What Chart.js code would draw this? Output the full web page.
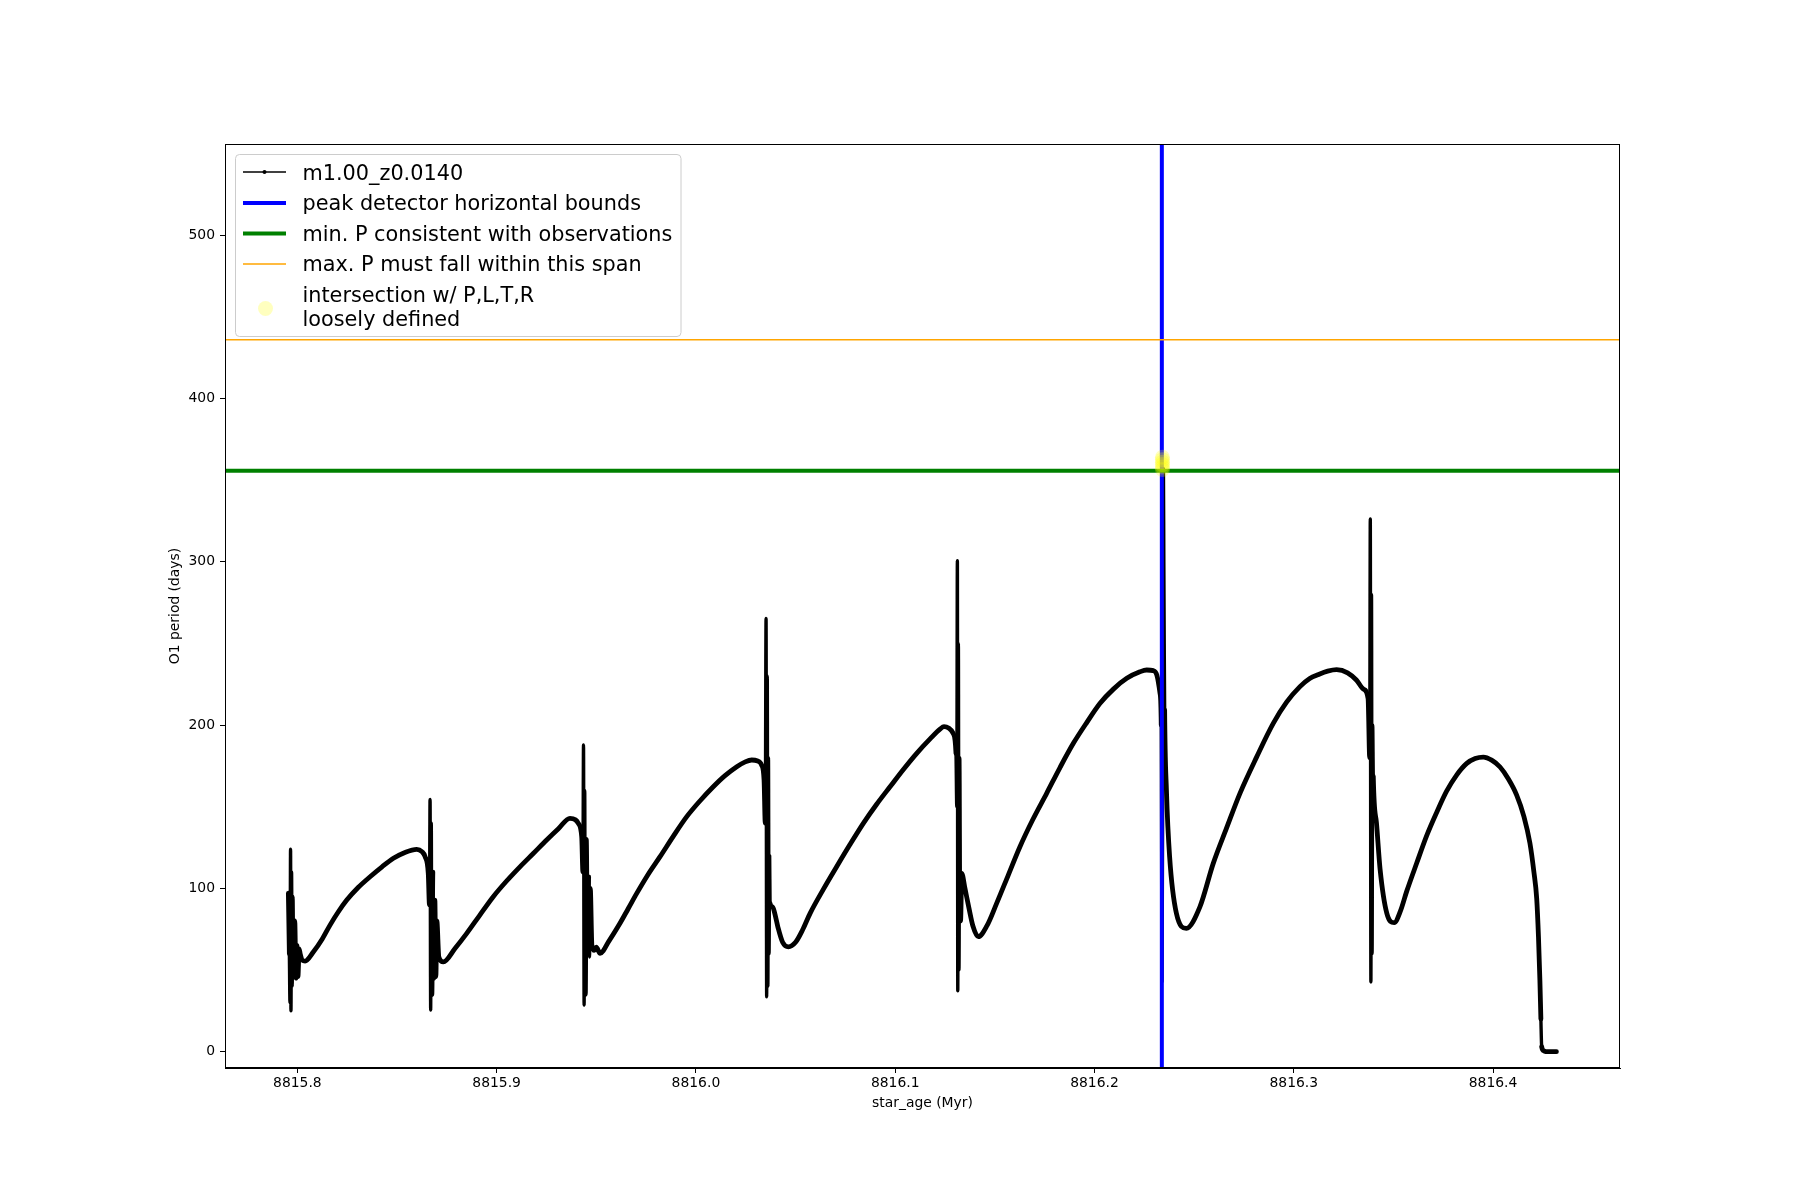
<!DOCTYPE html>
<html>
<head>
<meta charset="utf-8">
<script src="https://cdn.jsdelivr.net/npm/chart.js@4.4.1/dist/chart.umd.min.js"></script>
<style>
  html, body { margin: 0; padding: 0; background: #ffffff; }
  #wrap { width: 1800px; height: 1200px; }
</style>
</head>
<body>
<div id="wrap"><canvas id="c" width="1800" height="1200"></canvas></div>
<script>
// ---------------- data ----------------
const seriesLabel = 'm1.00_z0.0140';
const ageMyr = [
  8815.7955, 8815.7960, 8815.7963, 8815.7966, 8815.7968, 8815.7971, 8815.7974, 8815.7978, 8815.7982, 8815.7987,
  8815.7993, 8815.7998, 8815.8003, 8815.8009, 8815.8014, 8815.8025, 8815.8039, 8815.8080, 8815.8125, 8815.8164,
  8815.8205, 8815.8248, 8815.8305, 8815.8365, 8815.8425, 8815.8482, 8815.8540, 8815.8599, 8815.8625, 8815.8641,
  8815.8657, 8815.8663, 8815.8666, 8815.8669, 8815.8672, 8815.8675, 8815.8680, 8815.8684, 8815.8690, 8815.8695,
  8815.8700, 8815.8710, 8815.8733, 8815.8790, 8815.8850, 8815.8915, 8815.8983, 8815.9050, 8815.9117, 8815.9185,
  8815.9251, 8815.9310, 8815.9368, 8815.9395, 8815.9410, 8815.9427, 8815.9433, 8815.9436, 8815.9439, 8815.9442,
  8815.9445, 8815.9450, 8815.9456, 8815.9462, 8815.9466, 8815.9470, 8815.9478, 8815.9490, 8815.9500, 8815.9519,
  8815.9565, 8815.9619, 8815.9660, 8815.9703, 8815.9760, 8815.9820, 8815.9887, 8815.9954, 8816.0020, 8816.0087,
  8816.0146, 8816.0205, 8816.0245, 8816.0280, 8816.0310, 8816.0330, 8816.0342, 8816.0348, 8816.0352, 8816.0355,
  8816.0358, 8816.0361, 8816.0364, 8816.0367, 8816.0370, 8816.0372, 8816.0385, 8816.0395, 8816.0412, 8816.0435,
  8816.0464, 8816.0500, 8816.0535, 8816.0573, 8816.0640, 8816.0706, 8816.0773, 8816.0840, 8816.0907, 8816.0974,
  8816.1041, 8816.1108, 8816.1175, 8816.1225, 8816.1245, 8816.1270, 8816.1291, 8816.1305, 8816.1309, 8816.1312,
  8816.1314, 8816.1317, 8816.1320, 8816.1324, 8816.1328, 8816.1334, 8816.1350, 8816.1370, 8816.1390, 8816.1417,
  8816.1460, 8816.1509, 8816.1567, 8816.1626, 8816.1690, 8816.1760, 8816.1827, 8816.1894, 8816.1961, 8816.2028,
  8816.2095, 8816.2162, 8816.2228, 8816.2262, 8816.2295, 8816.2313, 8816.2329, 8816.2335, 8816.2339, 8816.2342,
  8816.2344, 8816.2346, 8816.2348, 8816.2350, 8816.2352, 8816.2361, 8816.2377, 8816.2411, 8816.2461, 8816.2529,
  8816.2596, 8816.2663, 8816.2730, 8816.2814, 8816.2897, 8816.2964, 8816.3031, 8816.3080, 8816.3125, 8816.3170,
  8816.3215, 8816.3270, 8816.3314, 8816.3350, 8816.3373, 8816.3381, 8816.3384, 8816.3387, 8816.3390, 8816.3393,
  8816.3396, 8816.3399, 8816.3415, 8816.3433, 8816.3467, 8816.3504, 8816.3535, 8816.3567, 8816.3617, 8816.3667,
  8816.3717, 8816.3767, 8816.3818, 8816.3868, 8816.3910, 8816.3951, 8816.3993, 8816.4035, 8816.4077, 8816.4118,
  8816.4155, 8816.4185, 8816.4205, 8816.4219, 8816.4228, 8816.4235, 8816.4240, 8816.4244, 8816.4255, 8816.4269,
  8816.4300, 8816.4318
];
const periodDays = [
  97, 60, 30, 124, 25, 110, 40, 95, 50, 80,
  45, 65, 46, 63, 60, 56, 55.5, 61, 69, 77.5,
  85.5, 92.8, 100.5, 107.1, 113.2, 118.4, 122, 123.9, 122.5, 119.4,
  109.2, 90, 154.5, 25.5, 140, 35, 110, 45, 92.8, 46,
  80, 58, 55, 63, 72.4, 83.5, 94.9, 104.5, 113.2, 121.5,
  129.6, 136.5, 142.9, 142, 139.8, 131.6, 110, 187.8, 28.5, 160,
  35, 130, 60, 107, 58, 100, 65, 62, 64, 60.2,
  68, 78.6, 87.5, 96.9, 108.5, 119.4, 132, 143.9, 153.5, 162.2,
  169, 174.5, 177.3, 178.6, 178, 175.5, 166.3, 140, 265.3, 33.6,
  230, 40, 180, 60, 120, 90.8, 88.7, 85, 76, 67,
  64.2, 67, 74.5, 84.7, 99.5, 113.2, 126.8, 139.8, 151.5, 162.2,
  172.8, 182.7, 191.5, 197.5, 199, 198, 194.9, 182.7, 150, 300.6,
  37.3, 250, 50, 180, 80, 109.2, 100, 88, 77, 70.4,
  77, 90.8, 108, 125.5, 142, 158.2, 174, 188.8, 201.5, 213.3,
  222, 228.6, 232.6, 233.7, 233.3, 230.6, 219.4, 200, 43, 150,
  300, 357, 300, 250, 209.2, 160.2, 119.4, 84.7, 75.5, 88.7,
  115.3, 137, 158.2, 180.5, 201, 214, 223.5, 228.5, 231, 233,
  233.9, 232, 227.6, 222, 216.2, 180, 326.2, 42.7, 280, 60,
  200, 168.6, 140, 111.9, 84.7, 79, 86, 98.3, 115.5, 132.3,
  146.5, 159.5, 169.5, 176.5, 179.5, 180.4, 178.5, 174.3, 167, 157.3,
  144, 127.7, 110, 93.8, 70, 43.8, 20, 3, 0.5, 0,
  0, 0
];

const peakBoundAge = 8816.2338;          // blue vertical line
const minPeriodObs = 355.7;              // green horizontal line
const maxPeriodSpan = 435.9;             // orange horizontal line
const intersectAge = [8816.2341, 8816.2341, 8816.2341, 8816.2341, 8816.2341, 8816.2341];
const intersectPeriod = [356.5, 358, 359.5, 361, 362.5, 364];

const xTickValues = [8815.8, 8815.9, 8816.0, 8816.1, 8816.2, 8816.3, 8816.4];
const yTickValues = [0, 100, 200, 300, 400, 500];
const xLimits = [8815.7637, 8816.4637];
const yLimits = [-10.0, 555.8];

const legendLabels = [
  'm1.00_z0.0140',
  'peak detector horizontal bounds',
  'min. P consistent with observations',
  'max. P must fall within this span',
  ['intersection w/ P,L,T,R', 'loosely defined']
];
const xTitle = 'star_age (Myr)';
const yTitle = 'O1 period (days)';

// ---------------- build datasets ----------------
const curve = ageMyr.map((x, i) => ({ x: x, y: periodDays[i] }));
const vLine = [{ x: peakBoundAge, y: yLimits[0] }, { x: peakBoundAge, y: yLimits[1] }];
const gLine = [{ x: xLimits[0], y: minPeriodObs }, { x: xLimits[1], y: minPeriodObs }];
const oLine = [{ x: xLimits[0], y: maxPeriodSpan }, { x: xLimits[1], y: maxPeriodSpan }];
const yellowPts = intersectAge.map((x, i) => ({ x: x, y: intersectPeriod[i] }));

const FONT = "'DejaVu Sans', 'Liberation Sans', sans-serif";

const framePlugin = {
  id: 'frame',
  afterDatasetsDraw(chart) {
    const { ctx, chartArea: a } = chart;
    ctx.save();
    ctx.strokeStyle = '#000';
    ctx.lineWidth = 1;
    ctx.strokeRect(Math.round(a.left) + 0.5, Math.round(a.top) + 0.5,
                   Math.round(a.right - a.left) - 1, Math.round(a.bottom - a.top) - 1);
    ctx.restore();
  },
  afterDraw(chart) {
    const ctx = chart.ctx;
    ctx.save();
    // legend frame
    const bx = 235.5, by = 154.5, bw = 445.5, bh = 182, r = 4;
    ctx.beginPath();
    ctx.moveTo(bx + r, by);
    ctx.lineTo(bx + bw - r, by);
    ctx.arcTo(bx + bw, by, bx + bw, by + r, r);
    ctx.lineTo(bx + bw, by + bh - r);
    ctx.arcTo(bx + bw, by + bh, bx + bw - r, by + bh, r);
    ctx.lineTo(bx + r, by + bh);
    ctx.arcTo(bx, by + bh, bx, by + bh - r, r);
    ctx.lineTo(bx, by + r);
    ctx.arcTo(bx, by, bx + r, by, r);
    ctx.closePath();
    ctx.fillStyle = 'rgba(255,255,255,0.8)';
    ctx.fill();
    ctx.strokeStyle = '#cccccc';
    ctx.lineWidth = 1;
    ctx.stroke();

    const hx0 = 243, hx1 = 286;
    const handleY = [172, 203, 233.5, 264];
    ctx.lineCap = 'butt';
    ctx.strokeStyle = '#000'; ctx.lineWidth = 1.5;
    ctx.beginPath(); ctx.moveTo(hx0, handleY[0]); ctx.lineTo(hx1, handleY[0]); ctx.stroke();
    ctx.fillStyle = '#000';
    ctx.beginPath(); ctx.arc((hx0 + hx1) / 2, handleY[0], 2, 0, Math.PI * 2); ctx.fill();
    ctx.strokeStyle = '#0000ff'; ctx.lineWidth = 4;
    ctx.beginPath(); ctx.moveTo(hx0, handleY[1]); ctx.lineTo(hx1, handleY[1]); ctx.stroke();
    ctx.strokeStyle = '#008000'; ctx.lineWidth = 4;
    ctx.beginPath(); ctx.moveTo(hx0, handleY[2]); ctx.lineTo(hx1, handleY[2]); ctx.stroke();
    ctx.strokeStyle = '#ffa500'; ctx.lineWidth = 1.5;
    ctx.beginPath(); ctx.moveTo(hx0, handleY[3]); ctx.lineTo(hx1, handleY[3]); ctx.stroke();
    ctx.fillStyle = 'rgba(255,255,0,0.25)';
    ctx.beginPath(); ctx.arc(265.5, 308.5, 7.5, 0, Math.PI * 2); ctx.fill();

    ctx.fillStyle = '#000';
    ctx.font = '20.8px ' + FONT;
    ctx.textAlign = 'left';
    ctx.textBaseline = 'alphabetic';
    const tx = 302.5;
    const baselines = [179.5, 210, 240.8, 271.3];
    for (let i = 0; i < 4; i++) ctx.fillText(legendLabels[i], tx, baselines[i]);
    ctx.fillText(legendLabels[4][0], tx, 301.5);
    ctx.fillText(legendLabels[4][1], tx, 326.3);
    ctx.restore();
  }
};

const tickFont = { family: FONT, size: 13.9 };

new Chart(document.getElementById('c').getContext('2d'), {
  type: 'line',
  data: {
    datasets: [
      {
        label: seriesLabel, data: curve, borderColor: '#000000', backgroundColor: '#000000',
        borderWidth: 4.8, pointRadius: 0, cubicInterpolationMode: 'monotone', order: 5,
        borderJoinStyle: 'round', borderCapStyle: 'round',
        segment: {
          borderWidth: c => (Math.abs(c.p1.x - c.p0.x) < 0.8 ? 3.4 : 4.8)
        }
      },
      { label: legendLabels[1], data: vLine, borderColor: '#0000ff', borderWidth: 4, pointRadius: 0, order: 4 },
      { label: legendLabels[2], data: gLine, borderColor: '#008000', borderWidth: 4, pointRadius: 0, order: 3 },
      { label: legendLabels[3], data: oLine, borderColor: '#ffa500', borderWidth: 1.5, pointRadius: 0, order: 2 },
      {
        label: legendLabels[4].join(' '), type: 'scatter', data: yellowPts, showLine: false,
        backgroundColor: 'rgba(255,255,0,0.25)', borderWidth: 0, pointRadius: 7.5, order: 1
      }
    ]
  },
  options: {
    responsive: false, animation: false, devicePixelRatio: 1,
    layout: { padding: { left: 163, top: 144, right: 180, bottom: 84 } },
    plugins: { legend: { display: false }, tooltip: { enabled: false } },
    scales: {
      x: {
        type: 'linear', min: xLimits[0], max: xLimits[1],
        afterFit: s => { s.height = 48; },
        afterBuildTicks: s => { s.ticks = xTickValues.map(v => ({ value: v })); },
        grid: { display: true, drawOnChartArea: false, drawTicks: true, tickLength: 5, tickColor: '#000', tickWidth: 1 },
        border: { display: true, color: '#000', width: 1 },
        ticks: { color: '#000', font: tickFont, padding: 2, maxRotation: 0, callback: v => Number(v).toFixed(1) },
        title: { display: true, text: xTitle, color: '#000', font: tickFont, padding: { top: 4, bottom: 4 } }
      },
      y: {
        type: 'linear', min: yLimits[0], max: yLimits[1],
        afterFit: s => { s.width = 62; },
        afterBuildTicks: s => { s.ticks = yTickValues.map(v => ({ value: v })); },
        grid: { display: true, drawOnChartArea: false, drawTicks: true, tickLength: 5, tickColor: '#000', tickWidth: 1 },
        border: { display: true, color: '#000', width: 1 },
        ticks: { color: '#000', font: tickFont, padding: 5, callback: v => String(v) },
        title: { display: true, text: yTitle, color: '#000', font: tickFont, padding: { top: 4, bottom: 4 } }
      }
    }
  },
  plugins: [framePlugin]
});
</script>
</body>
</html>
